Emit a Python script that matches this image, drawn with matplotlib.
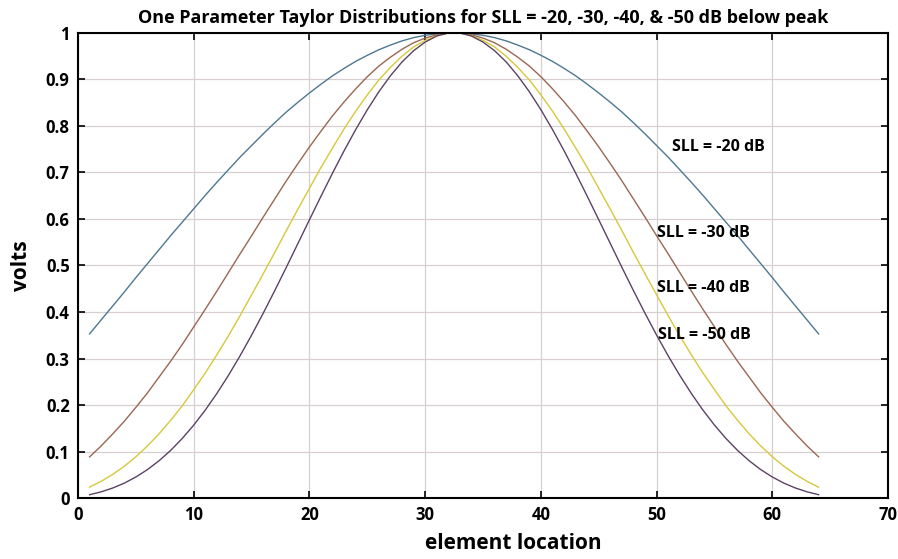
import matplotlib.pyplot as plt

# --- dados ---
# elementos 1..64; a distribuição é simétrica, então guardo só a metade esquerda (1..32)
elementos = list(range(1, 65))

sll_20 = [0.353, 0.383, 0.413, 0.443, 0.474, 0.504, 0.534, 0.564, 0.593, 0.622,
          0.651, 0.679, 0.706, 0.733, 0.758, 0.783, 0.807, 0.830, 0.851, 0.871,
          0.890, 0.908, 0.924, 0.939, 0.952, 0.964, 0.974, 0.983, 0.990, 0.995,
          0.998, 1.000]
sll_30 = [0.0885, 0.112, 0.138, 0.165, 0.195, 0.226, 0.260, 0.294, 0.330, 0.368,
          0.406, 0.445, 0.485, 0.525, 0.564, 0.604, 0.643, 0.682, 0.719, 0.755,
          0.789, 0.822, 0.852, 0.880, 0.906, 0.929, 0.948, 0.965, 0.979, 0.989,
          0.996, 1.000]
sll_40 = [0.0234, 0.0359, 0.0508, 0.0684, 0.0887, 0.112, 0.138, 0.167, 0.198, 0.233,
          0.269, 0.308, 0.349, 0.392, 0.437, 0.482, 0.528, 0.575, 0.621, 0.666,
          0.711, 0.753, 0.794, 0.832, 0.867, 0.899, 0.926, 0.950, 0.970, 0.984,
          0.994, 1.000]
sll_50 = [0.0071, 0.0133, 0.0215, 0.0320, 0.0452, 0.0611, 0.0801, 0.1023, 0.1279, 0.1568,
          0.1892, 0.2249, 0.2638, 0.3057, 0.3503, 0.3972, 0.4460, 0.4961, 0.5472, 0.5984,
          0.6492, 0.6990, 0.7470, 0.7925, 0.8350, 0.8737, 0.9081, 0.9377, 0.9619, 0.9804,
          0.9935, 1.000]

rotulos = ['SLL = -20 dB', 'SLL = -30 dB', 'SLL = -40 dB', 'SLL = -50 dB']
rotulo_x = [51.3, 50.0, 50.0, 50.1]
rotulo_y = [0.755, 0.570, 0.452, 0.351]
cores = ['#4d7891', '#9c6652', '#d6c83a', '#5c4266']

plt.rcParams['font.family'] = ['Open Sans', 'DejaVu Sans']

fig = plt.figure(figsize=(8.98, 5.59), dpi=100)
ax = fig.add_axes([0.0869, 0.1091, 0.902, 0.8319])

for serie, cor in zip([sll_20, sll_30, sll_40, sll_50], cores):
    y_todos = serie + serie[::-1]
    ax.plot(elementos, y_todos, color=cor, linewidth=1.0)

for txt, tx, ty in zip(rotulos, rotulo_x, rotulo_y):
    ax.text(tx, ty, txt, fontsize=11.5, fontweight='bold', va='center', ha='left')

ax.set_xlim(0, 70)
ax.set_ylim(0, 1)
ax.set_xticks(range(0, 71, 10))
ax.set_yticks([i / 10 for i in range(11)])
ax.set_yticklabels(['0', '0.1', '0.2', '0.3', '0.4', '0.5', '0.6', '0.7', '0.8', '0.9', '1'])
ax.tick_params(direction='in', top=True, right=True, length=5, width=1.2,
               labelsize=12, pad=6)
for lbl in ax.get_xticklabels() + ax.get_yticklabels():
    lbl.set_fontweight('bold')

ax.grid(True, color='#d8d0d0', linewidth=0.9)
for sp in ax.spines.values():
    sp.set_linewidth(1.5)

ax.set_title('One Parameter Taylor Distributions for SLL = -20, -30, -40, & -50 dB below peak',
             fontsize=13, fontweight='bold', pad=7)
ax.set_xlabel('element location', fontsize=15, fontweight='bold', labelpad=8)
ax.xaxis.set_label_coords(0.537, -0.075)
ax.set_ylabel('volts', fontsize=15, fontweight='bold', labelpad=10)

plt.savefig('out.png', dpi=100)
